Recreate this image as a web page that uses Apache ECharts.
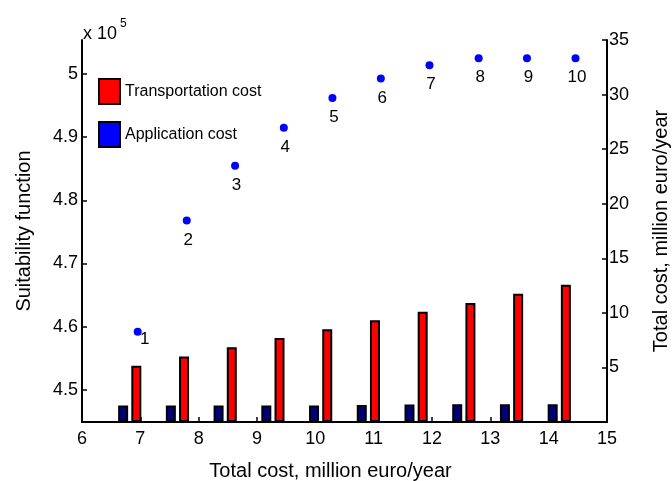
<!DOCTYPE html>
<html>
<head>
<meta charset="utf-8">
<script src="https://cdn.jsdelivr.net/npm/echarts@6/dist/echarts.min.js"></script>
<style>
    html, body { margin: 0; padding: 0; background: #fff; }
    #chart { width: 672px; height: 481px; }
</style>
</head>
<body>
<div id="chart"></div>
<script>
// scatter: total cost vs suitability (x 10^5)
const pointCost = [6.955, 7.796, 8.624, 9.46, 10.293, 11.123, 11.957, 12.80, 13.628, 14.46];
const suitability = [4.592, 4.768, 4.855, 4.915, 4.962, 4.993, 5.014, 5.025, 5.025, 5.025];
const pointNames = ['1', '2', '3', '4', '5', '6', '7', '8', '9', '10'];

// bars: cost breakdown per solution (million euro/year)
const barSlots = [1, 2, 3, 4, 5, 6, 7, 8, 9, 10];
const applicationCost = [1.52, 1.52, 1.52, 1.52, 1.52, 1.55, 1.6, 1.63, 1.63, 1.63];
const transportCost = [5.15, 6.0, 6.85, 7.7, 8.5, 9.33, 10.1, 10.9, 11.75, 12.57];

const xTicks = [6, 7, 8, 9, 10, 11, 12, 13, 14, 15];
const leftTicks = [4.5, 4.6, 4.7, 4.8, 4.9, 5.0];
const rightTicks = [5, 10, 15, 20, 25, 30, 35];

let chart = echarts.init(document.getElementById('chart'));

let scatterData = pointCost.map(function(c, i) {
    let item = { name: pointNames[i], value: [c, suitability[i]] };
    if (i === 0) {
        // first label sits to the right of its point
        item.label = { position: 'inside', offset: [7, 8] };
    }
    return item;
});

let axisLine = { show: true, lineStyle: { color: '#000', width: 2 } };
let axisTick = { show: true, inside: true, length: 5, lineStyle: { color: '#000', width: 1.5 } };

let option = {
    animation: false,
    textStyle: { fontFamily: 'Liberation Sans, Arial, sans-serif' },
    grid: {
        left: 82,
        right: 65,
        top: 40,
        bottom: 59,
        outerBoundsMode: 'none'
    },
    legend: {
        orient: 'vertical',
        left: 98,
        top: 78,
        padding: 0,
        itemWidth: 21,
        itemHeight: 25,
        itemGap: 16,
        textStyle: { fontSize: 16, color: '#000' },
        data: [
            { name: 'Transportation cost', icon: 'rect', itemStyle: { color: '#ff0000' } },
            { name: 'Application cost', icon: 'rect', itemStyle: { color: '#0000ff' } }
        ]
    },
    graphic: [
        {
            type: 'text',
            left: 83,
            top: 25,
            style: { text: 'x 10', fontSize: 18, fill: '#000', fontFamily: 'Liberation Sans, Arial, sans-serif' }
        },
        {
            type: 'text',
            left: 120,
            top: 18,
            style: { text: '5', fontSize: 12, fill: '#000', fontFamily: 'Liberation Sans, Arial, sans-serif' }
        }
    ],
    xAxis: [{
            type: 'value',
            min: 6,
            max: 15,
            interval: 1,
            position: 'bottom',
            axisLine: axisLine,
            axisTick: axisTick,
            splitLine: { show: false },
            axisLabel: {
                color: '#000',
                fontSize: 18,
                margin: 8,
                customValues: xTicks
            },
            name: 'Total cost, million euro/year',
            nameLocation: 'middle',
            nameGap: 39,
            nameTextStyle: { fontSize: 20, color: '#000', padding: [0, 28, 0, 0] }
        },
        {
            // hidden slot axis for the bar groups
            type: 'value',
            min: 0,
            max: 11,
            show: false
        }
    ],
    yAxis: [{
            type: 'value',
            min: 4.449,
            max: 5.054,
            position: 'left',
            axisLine: axisLine,
            axisTick: Object.assign({}, axisTick, { customValues: leftTicks }),
            splitLine: { show: false },
            axisLabel: {
                color: '#000',
                fontSize: 18,
                margin: 4,
                customValues: leftTicks,
                formatter: function(v) {
                    return String(+v.toFixed(1));
                }
            },
            name: 'Suitability function',
            nameLocation: 'middle',
            nameGap: 48,
            nameRotate: 90,
            nameTextStyle: { fontSize: 20, color: '#000' }
        },
        {
            type: 'value',
            min: 0,
            max: 35,
            position: 'right',
            axisLine: axisLine,
            axisTick: Object.assign({}, axisTick, { customValues: rightTicks }),
            splitLine: { show: false },
            axisLabel: {
                color: '#000',
                fontSize: 18,
                margin: 2,
                customValues: rightTicks
            },
            name: 'Total cost, million euro/year',
            nameLocation: 'middle',
            nameGap: 44,
            nameRotate: 90,
            nameTextStyle: { fontSize: 20, color: '#000' }
        }
    ],
    series: [{
            name: 'Application cost',
            type: 'bar',
            xAxisIndex: 1,
            yAxisIndex: 1,
            barWidth: 10,
            barGap: '32%',
            itemStyle: { color: '#00007f', borderColor: '#000', borderWidth: 2 },
            data: barSlots.map(function(s, i) { return [s, applicationCost[i]]; })
        },
        {
            name: 'Transportation cost',
            type: 'bar',
            xAxisIndex: 1,
            yAxisIndex: 1,
            barWidth: 10,
            barGap: '32%',
            itemStyle: { color: '#ff0000', borderColor: '#000', borderWidth: 2 },
            data: barSlots.map(function(s, i) { return [s, transportCost[i]]; })
        },
        {
            name: 'Suitability',
            type: 'scatter',
            xAxisIndex: 0,
            yAxisIndex: 0,
            symbolSize: 8,
            z: 5,
            itemStyle: { color: '#0000ff', opacity: 1 },
            label: {
                show: true,
                position: 'bottom',
                distance: 7,
                offset: [1.5, 0],
                fontSize: 17,
                color: '#000',
                formatter: '{b}'
            },
            data: scatterData
        }
    ]
};

chart.setOption(option);
</script>
</body>
</html>
